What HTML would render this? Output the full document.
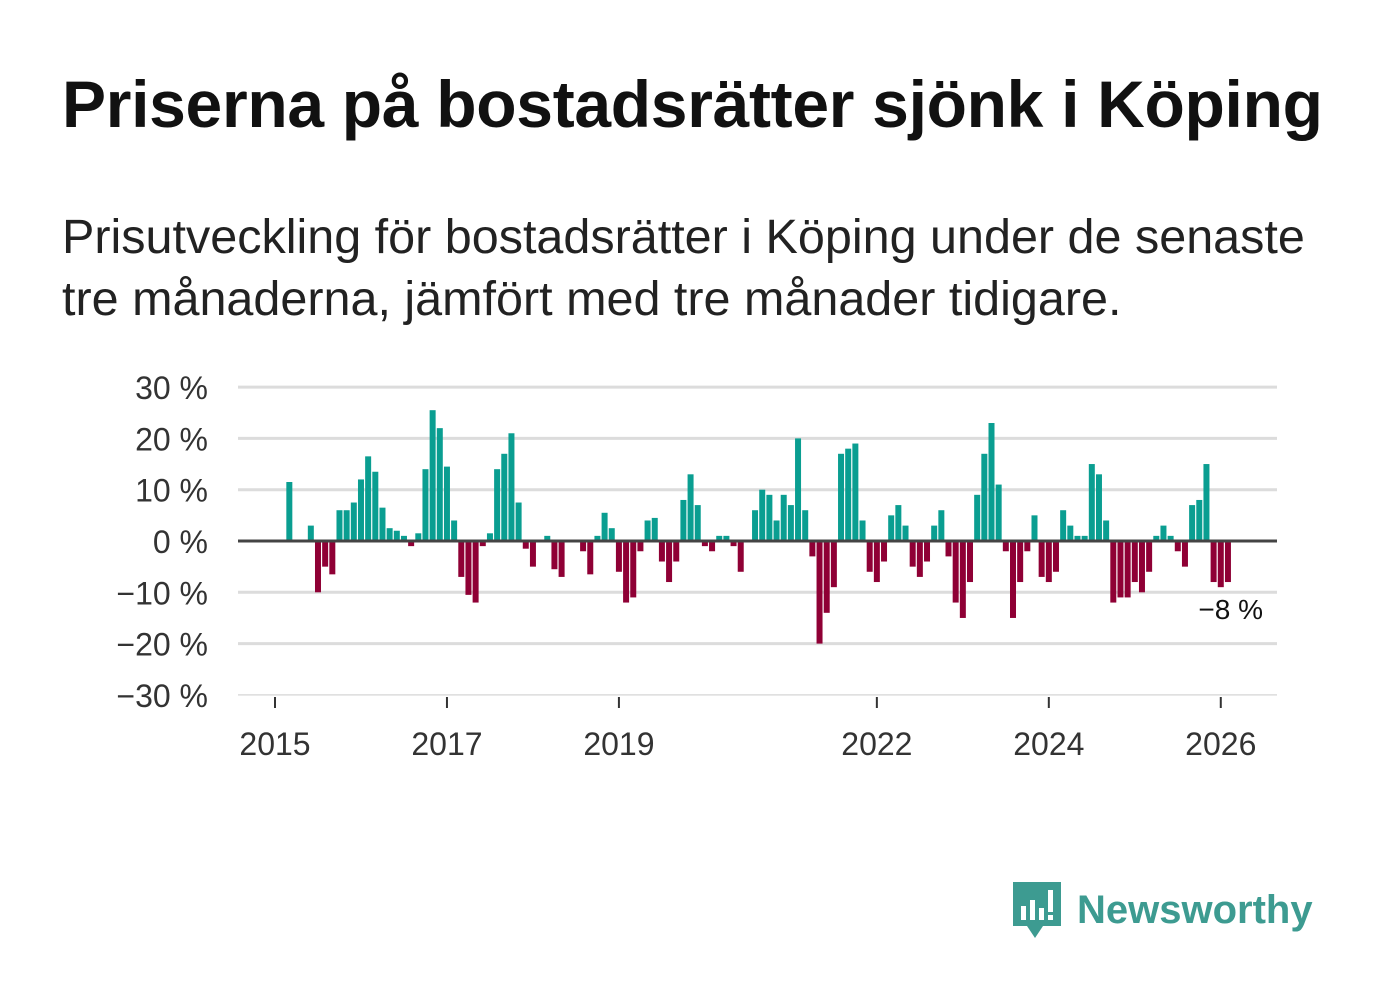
<!DOCTYPE html>
<html><head><meta charset="utf-8"><style>
body{margin:0;background:#fff;width:1382px;height:999px;overflow:hidden;font-family:"Liberation Sans","DejaVu Sans",sans-serif;color:#111}
#title{position:absolute;left:62px;top:66px;font-size:66px;font-weight:bold;letter-spacing:-0.3px;white-space:nowrap}
#sub{position:absolute;left:62px;top:206px;font-size:48.5px;line-height:62px;color:#222;width:1310px;white-space:nowrap}
svg{position:absolute;left:0;top:0}
</style></head><body>
<div id="title">Priserna på bostadsrätter sjönk i Köping</div>
<div id="sub">Prisutveckling för bostadsrätter i Köping under de senaste<br>tre månaderna, jämfört med tre månader tidigare.</div>
<svg id="chart" width="1382" height="999"></svg>
<script>
const startMonth = 2; // March 2015 (months since Jan 2015)
const values = [11.5,0,0,3,-10,-5,-6.5,6,6,7.5,12,16.5,13.5,6.5,2.5,2,1,-1,1.5,14,25.5,22,14.5,4,-7,-10.5,-12,-1,1.5,14,17,21,7.5,-1.5,-5,0,1,-5.5,-7,0,0,-2,-6.5,1,5.5,2.5,-6,-12,-11,-2,4,4.5,-4,-8,-4,8,13,7,-1,-2,1,1,-1,-6,0,6,10,9,4,9,7,20,6,-3,-20,-14,-9,17,18,19,4,-6,-8,-4,5,7,3,-5,-7,-4,3,6,-3,-12,-15,-8,9,17,23,11,-2,-15,-8,-2,5,-7,-8,-6,6,3,1,1,15,13,4,-12,-11,-11,-8,-10,-6,1,3,1,-2,-5,7,8,15,-8,-9,-8];
const yTicks = [30,20,10,0,-10,-20,-30];
const yLabels = ["30 %","20 %","10 %","0 %","−10 %","−20 %","−30 %"];
const xTickYears = [2015,2017,2019,2022,2024,2026];
const lastLabel = "−8 %";

const NS="http://www.w3.org/2000/svg";
const svg=document.getElementById('chart');
const x0=275, pxPerMonth=7.165;
const xScale=m=>x0+m*pxPerMonth;
const y0=541, pxPerPct=5.13;
const yScale=v=>y0-v*pxPerPct;
function mk(t,a){const e=document.createElementNS(NS,t);for(const k in a)e.setAttribute(k,a[k]);svg.appendChild(e);return e;}

yTicks.forEach((v,i)=>{
  if(v!==0){const g=mk('line',{x1:238,x2:1277,y1:yScale(v),y2:yScale(v),stroke:'#dcdcdc','stroke-width':v===-30?1.5:3});
  
  }
  const t=mk('text',{x:208,y:yScale(v)+12,'text-anchor':'end','font-size':32,fill:'#333'});
  t.textContent=yLabels[i];
  
  
});
values.forEach((v,i)=>{
  if(v===0)return;
  const cx=xScale(startMonth+i);
  const y=v>0?yScale(v):y0;
  const r=mk('rect',{x:cx-3,y:y,width:6,height:Math.abs(v)*pxPerPct,fill:v>0?'#0a9e91':'#8f0035'});
  
  
});
const zl=mk('line',{x1:238,x2:1277,y1:y0,y2:y0,stroke:'#444','stroke-width':3});


xTickYears.forEach(yr=>{
  const x=xScale((yr-2015)*12);
  const l=mk('line',{x1:x,x2:x,y1:697,y2:708,stroke:'#333','stroke-width':2});
  
  
  const t=mk('text',{x:x,y:755,'text-anchor':'middle','font-size':32,fill:'#333'});
  t.textContent=yr;
  
  
});
const lv=values[values.length-1];
const lt=mk('text',{x:1263,y:yScale(lv)+37,'text-anchor':'end','font-size':28,fill:'#111',stroke:'#fff','stroke-width':6,'paint-order':'stroke'});
lt.textContent=lastLabel;


</script>
<div style="position:absolute;left:1011px;top:880px;display:flex;align-items:center">
  <svg width="52" height="60" style="position:static" viewBox="0 0 52 60"><path d="M2 2h48v44H32l-8 12-8-12H2z" fill="#3d9b91"/><rect x="10" y="26" width="5" height="14" fill="#fff"/><rect x="19" y="20" width="5" height="20" fill="#fff"/><rect x="28" y="28" width="5" height="12" fill="#fff"/><rect x="37" y="10" width="5" height="22" fill="#fff"/><rect x="37" y="35" width="5" height="5" fill="#fff"/></svg>
  <span style="font-size:40px;font-weight:bold;color:#3d9b91;margin-left:14px">Newsworthy</span>
</div>
</body></html>
